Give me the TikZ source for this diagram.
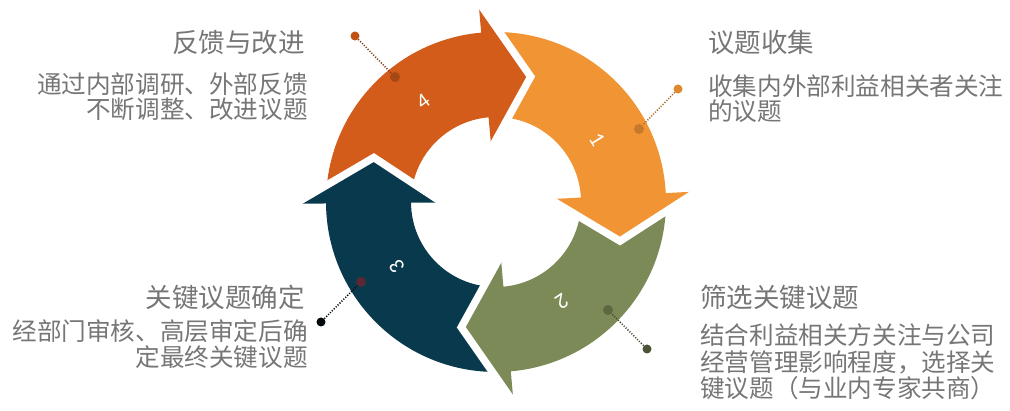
\documentclass[tikz,border=0pt]{standalone}
\usepackage{fontspec}
\newfontfamily\cjk{Noto Sans CJK SC}
\newfontfamily\numfont{Carlito}
\definecolor{cOrange}{RGB}{241,148,52}
\definecolor{cOlive}{RGB}{124,138,88}
\definecolor{cNavy}{RGB}{8,57,77}
\definecolor{cRed}{RGB}{212,92,26}
\definecolor{textgray}{RGB}{118,118,118}
\newcommand\cyclearrow[3]{%
  \fill[#1] ({#3-5.82}:170pt) arc[start angle={#3-5.82}, end angle={#2}, radius=170pt]
    -- (#2:198pt) -- ({#2-20.5}:130pt) -- (#2:57pt) -- (#2:85pt)
    arc[start angle={#2}, end angle={#3-12.43}, radius=85pt]
    -- ({#3-20.5}:130pt) -- cycle;}
\newcommand\headgap[1]{%
  \draw[gapline] (#1:201pt) -- ({#1-20.5}:130pt) -- (#1:54pt);}
\begin{document}
\begin{tikzpicture}[x=1pt,y=1pt,
  gapline/.style={white, line width=7.5pt, line join=miter},
  titletext/.style={font=\cjk\fontsize{26.5}{28}\selectfont, text=textgray, inner sep=0pt},
  bodytext/.style={font=\cjk\fontsize{24.6}{25}\selectfont, text=textgray, inner sep=0pt},
  bodytextb/.style={font=\cjk\fontsize{24.6}{26.5}\selectfont, text=textgray, inner sep=0pt},
  numtext/.style={font=\numfont\fontsize{22}{22}\selectfont, text=white, inner sep=0pt},
  dotout/.style={circle, inner sep=0pt, minimum size=9pt},
  dotin/.style={circle, inner sep=0pt, minimum size=10pt},
  leader/.style={line width=1.5pt, dash pattern=on 1.1pt off 1.6pt}]
\useasboundingbox (0,0) rectangle (1010,411);
% arrows
\begin{scope}[shift={(496,209)}]
  \cyclearrow{cOrange}{3}{95}
  \cyclearrow{cOlive}{-85}{3}
  \cyclearrow{cNavy}{-179.5}{-85}
  \cyclearrow{cRed}{95}{180.5}
  \headgap{3}
  \headgap{-85}
  \headgap{-179.5}
  \headgap{95}
\end{scope}
% numbers
\node[numtext, rotate=36] (n4) at (423,309) {4};
\node[numtext, rotate=-58.5] (n1) at (597,271) {1};
\node[numtext, rotate=-146.6] (n2) at (562,109) {2};
\node[numtext, rotate=123.3] (n3) at (397,144) {3};
% leaders and dots
\node[dotout, fill=cRed!90!black] (d4o) at (355,375) {};
\node[dotin, fill=cRed!78!black] (d4i) at (395,334) {};
\draw[leader, cRed!60!black] (d4o) -- (d4i);
\node[dotout, fill=cOrange!92!black] (d1o) at (678,322) {};
\node[dotin, fill=cOrange!82!black] (d1i) at (639,282) {};
\draw[leader, cOrange!70!black] (d1o) -- (d1i);
\node[dotout, fill=black!85!cNavy] (d3o) at (321,89) {};
\node[dotin, fill={rgb,255:red,90;green,40;blue,50}] (d3i) at (361,129) {};
\draw[leader, black!80!cNavy] (d3o) -- (d3i);
\node[dotout, fill=cOlive!60!black] (d2o) at (647,62) {};
\node[dotin, fill=cOlive!75!black] (d2i) at (608,101) {};
\draw[leader, cOlive!55!black] (d2o) -- (d2i);
% texts
\node[titletext, anchor=east] (t4) at (305,369) {反馈与改进};
\node[bodytext, anchor=east, align=right] (b4) at (308,314) {通过内部调研、外部反馈\\不断调整、改进议题};
\node[titletext, anchor=west] (t1) at (708,369) {议题收集};
\node[bodytext, anchor=west, align=left] (b1) at (708,312) {收集内外部利益相关者关注\\的议题};
\node[titletext, anchor=east] (t3) at (305,114) {关键议题确定};
\node[bodytextb, anchor=east, align=right] (b3) at (308,67) {经部门审核、高层审定后确\\定最终关键议题};
\node[titletext, anchor=west] (t2) at (700,114) {筛选关键议题};
\node[bodytextb, anchor=west, align=left] (b2) at (700,49) {结合利益相关方关注与公司\\经营管理影响程度，选择关\\键议题（与业内专家共商）};
\end{tikzpicture}
\end{document}
